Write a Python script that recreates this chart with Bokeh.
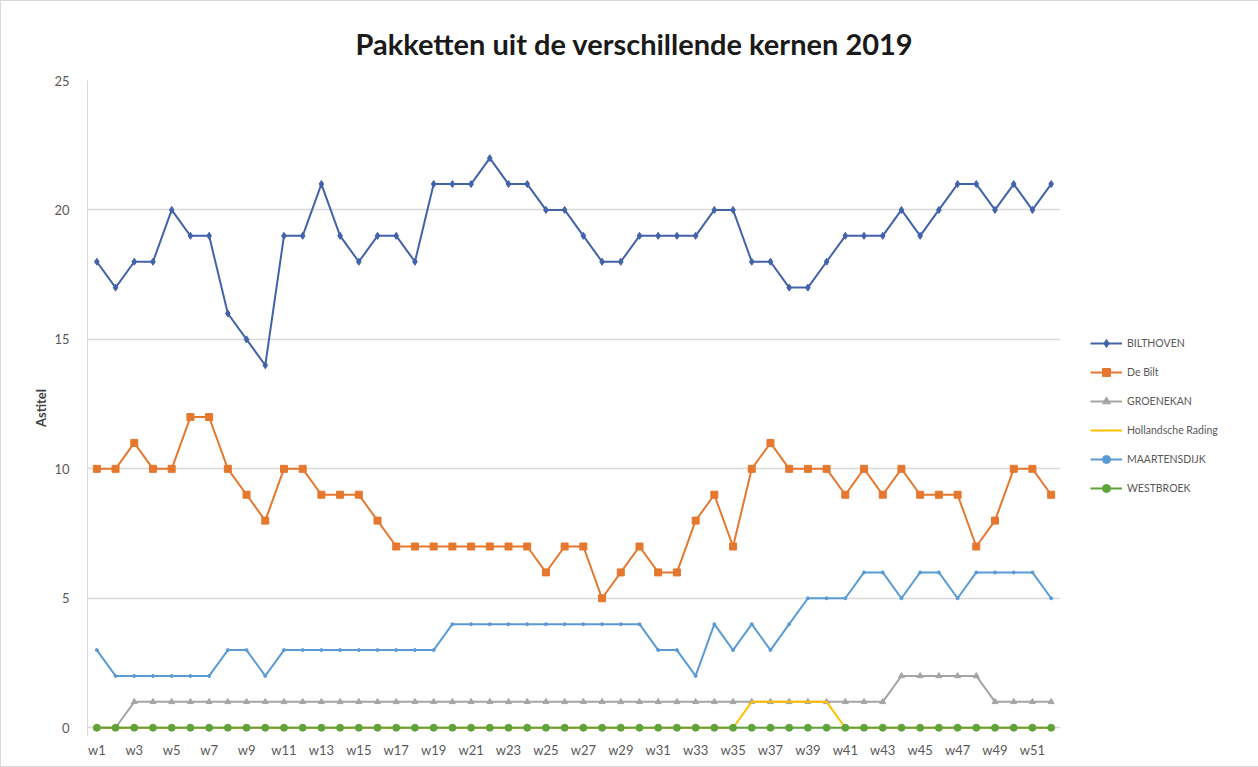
from bokeh.plotting import figure
from bokeh.models import Range1d, FixedTicker, Legend, LegendItem
from bokeh.embed import file_html
from bokeh.resources import INLINE

weeks = [f"w{i}" for i in range(1, 53)]

bilthoven = [18, 17, 18, 18, 20, 19, 19, 16, 15, 14, 19, 19, 21, 19, 18, 19, 19, 18, 21, 21,
             21, 22, 21, 21, 20, 20, 19, 18, 18, 19, 19, 19, 19, 20, 20, 18, 18, 17, 17, 18,
             19, 19, 19, 20, 19, 20, 21, 21, 20, 21, 20, 21]
de_bilt = [10, 10, 11, 10, 10, 12, 12, 10, 9, 8, 10, 10, 9, 9, 9, 8, 7, 7, 7, 7,
           7, 7, 7, 7, 6, 7, 7, 5, 6, 7, 6, 6, 8, 9, 7, 10, 11, 10, 10, 10,
           9, 10, 9, 10, 9, 9, 9, 7, 8, 10, 10, 9]
groenekan = [0, 0, 1, 1, 1, 1, 1, 1, 1, 1, 1, 1, 1, 1, 1, 1, 1, 1, 1, 1,
             1, 1, 1, 1, 1, 1, 1, 1, 1, 1, 1, 1, 1, 1, 1, 1, 1, 1, 1, 1,
             1, 1, 1, 2, 2, 2, 2, 2, 1, 1, 1, 1]
hollandsche_rading = [0, 0, 0, 0, 0, 0, 0, 0, 0, 0, 0, 0, 0, 0, 0, 0, 0, 0, 0, 0,
                      0, 0, 0, 0, 0, 0, 0, 0, 0, 0, 0, 0, 0, 0, 0, 1, 1, 1, 1, 1,
                      0, 0, 0, 0, 0, 0, 0, 0, 0, 0, 0, 0]
maartensdijk = [3, 2, 2, 2, 2, 2, 2, 3, 3, 2, 3, 3, 3, 3, 3, 3, 3, 3, 3, 4,
                4, 4, 4, 4, 4, 4, 4, 4, 4, 4, 3, 3, 2, 4, 3, 4, 3, 4, 5, 5,
                5, 6, 6, 5, 6, 6, 5, 6, 6, 6, 6, 5]
westbroek = [0] * 52

series_names = ["BILTHOVEN", "De Bilt", "GROENEKAN", "Hollandsche Rading", "MAARTENSDIJK", "WESTBROEK"]
series_values = [bilthoven, de_bilt, groenekan, hollandsche_rading, maartensdijk, westbroek]
colors = ["#4262AA", "#E5782E", "#A5A5A5", "#FFC000", "#5B9BD5", "#5FA33A"]
markers = ["diamond", "square", "triangle", None, "circle", "circle"]
msizes = [7, 7, 6, 0, 3, 7]

FONT = "Lato"
x = list(range(1, len(weeks) + 1))

p = figure(frame_width=973, frame_height=655, output_backend="svg", toolbar_location=None,
           x_range=Range1d(0.5, 52.5), y_range=Range1d(-0.3, 25.0),
           min_border_left=86, min_border_right=0, min_border_top=79, min_border_bottom=31,
           title="Pakketten uit de verschillende kernen 2019")
p.outline_line_color = None
p.background_fill_color = "white"
p.border_fill_color = "white"
p.styles = {"border": "1px solid #d9d9d9"}

p.title.align = "left"
p.title.offset = 268
p.title.standoff = 39
p.title.text_font = FONT
p.title.text_font_size = "29px"
p.title.text_font_style = "bold"
p.title.text_color = "#1a1a1a"

p.xgrid.grid_line_color = None
p.ygrid.grid_line_color = "#d9d9d9"
p.ygrid.grid_line_width = 1.3
p.ygrid.ticker = FixedTicker(ticks=[0, 5, 10, 15, 20, 25])

p.yaxis.ticker = FixedTicker(ticks=[0, 5, 10, 15, 20, 25])
p.yaxis.axis_line_color = "#d9d9d9"
p.yaxis.major_tick_line_color = None
p.yaxis.minor_tick_line_color = None
p.yaxis.major_label_text_font = FONT
p.yaxis.major_label_text_font_size = "13px"
p.yaxis.major_label_text_color = "#595959"
p.yaxis.major_label_standoff = 12
p.yaxis.axis_label = "Astitel"
p.yaxis.axis_label_text_font = FONT
p.yaxis.axis_label_text_font_size = "13px"
p.yaxis.axis_label_text_font_style = "bold"
p.yaxis.axis_label_text_color = "#404040"
p.yaxis.axis_label_standoff = 2

p.xaxis.ticker = FixedTicker(ticks=x[::2])
p.xaxis.major_label_overrides = {i: weeks[i - 1] for i in x}
p.xaxis.axis_line_color = None
p.xaxis.major_tick_line_color = None
p.xaxis.minor_tick_line_color = None
p.xaxis.major_label_text_font = FONT
p.xaxis.major_label_text_font_size = "13px"
p.xaxis.major_label_text_color = "#595959"
p.xaxis.major_label_standoff = 0

items = []
for name, vals, col, mk, ms in zip(series_names, series_values, colors, markers, msizes):
    rs = [p.line(x, vals, line_color=col, line_width=2)]
    if mk:
        rs.append(p.scatter(x, vals, marker=mk, size=ms, fill_color=col, line_color=col))
    items.append(LegendItem(label=name, renderers=rs))

legend = Legend(items=items, location=(30, 237), orientation="vertical",
                label_text_font=FONT, label_text_font_size="10.5px", label_text_color="#595959",
                glyph_width=32, glyph_height=20, label_height=20, spacing=9,
                padding=0, margin=0, border_line_color=None, background_fill_alpha=0,
                label_standoff=5)
p.add_layout(legend, "right")

open("out.html", "w").write(file_html(p, INLINE))
